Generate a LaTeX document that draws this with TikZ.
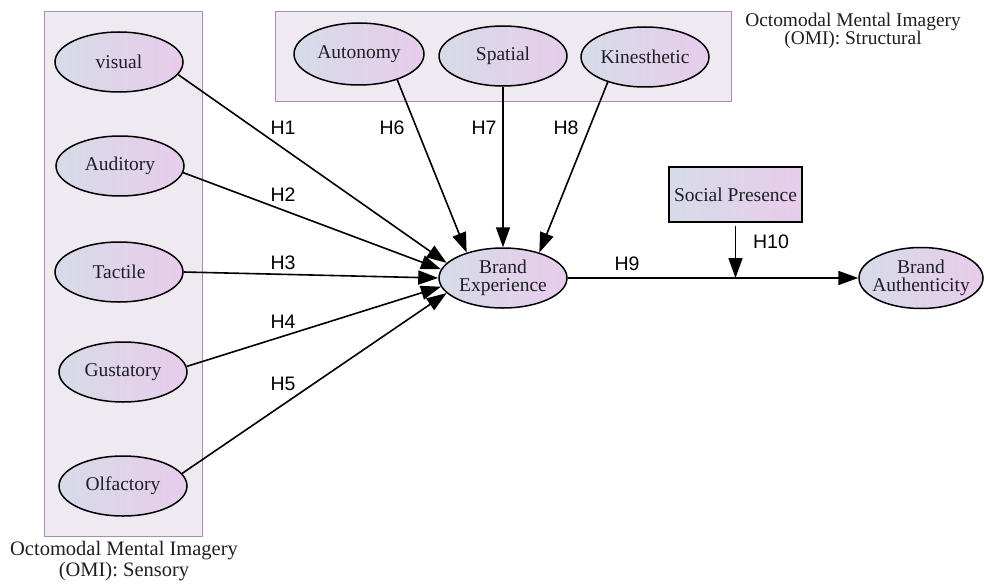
\documentclass[tikz,border=0pt]{standalone}
\usepackage{fontspec}
\setmainfont{Liberation Serif}
\newfontfamily\hfont{Liberation Sans}
\usetikzlibrary{shapes.geometric,arrows.meta}
\definecolor{boxfill}{RGB}{239,234,241}
\definecolor{boxline}{RGB}{170,140,185}
\definecolor{gl}{RGB}{214,219,232}
\definecolor{gr}{RGB}{232,204,236}
\definecolor{txt}{RGB}{30,30,36}
\begin{document}
\begin{tikzpicture}[x=1pt,y=-1pt,
 group/.style={draw=boxline, fill=boxfill, line width=1pt},
 lat/.style={ellipse, draw=black, line width=1.5pt, left color=gl, right color=gr, minimum width=128pt, minimum height=60pt, inner sep=0pt, font=\fontsize{19.5}{18}\selectfont, text=txt, align=center},
 obs/.style={rectangle, draw=black, line width=1.5pt, left color=gl, right color=gr, minimum width=133pt, minimum height=55pt, inner sep=0pt, font=\fontsize{19.5}{18}\selectfont, text=txt},
 hyparrow/.style={draw=black, line width=1.6pt, -{Triangle[length=20pt,width=14pt]}},
 hyp/.style={font=\hfont\fontsize{19.5}{20}\selectfont, text=black, inner sep=0pt},
 captext/.style={align=center, text=txt, inner sep=0pt}
]
\useasboundingbox (0,0) rectangle (984,583);
% group boxes
\draw[group] (44,12) rectangle (202,536);
\draw[group] (275,12) rectangle (731,102);
% latent nodes
\node[lat] (vis) at (119,62) {visual};
\node[lat] (aud) at (120,166) {Auditory};
\node[lat] (tac) at (119,272) {Tactile};
\node[lat] (gus) at (123,372) {Gustatory};
\node[lat] (olf) at (123,486) {Olfactory};
\node[lat, minimum width=130pt, minimum height=62pt] (aut) at (359,54) {Autonomy};
\node[lat] (spa) at (503,56) {Spatial};
\node[lat] (kin) at (645,57) {Kinesthetic};
\node[lat] (bex) at (503,278) {Brand\\Experience};
\node[lat, minimum width=124pt, minimum height=61pt] (bau) at (921,278) {Brand\\\makebox[80pt]{Authenticity}};
\node[obs] (sp) at (735.5,194.5) {Social Presence};
% paths
\draw[hyparrow] (vis.-12) -- (bex.165);
\draw[hyparrow] (aud.-6) -- (bex.172);
\draw[hyparrow] (tac.0) -- (bex.180);
\draw[hyparrow] (gus.5) -- (bex.188);
\draw[hyparrow] (olf.12) -- (bex.195);
\draw[hyparrow] (aut.-34) -- (bex.145);
\draw[hyparrow] (spa.south) -- (bex.north);
\draw[hyparrow] (kin.-146) -- (bex.35);
\draw[hyparrow] (bex.east) -- (bau.west);
\coordinate (mod) at (sp.south |- bex.east);
\draw[hyparrow, shorten <=3pt] (sp.south) -- (mod);
% hypothesis labels
\node[hyp] (h1) at (283,128) {H1};
\node[hyp] (h2) at (283,195) {H2};
\node[hyp] (h3) at (283,263) {H3};
\node[hyp] (h4) at (283,322) {H4};
\node[hyp] (h5) at (283,384) {H5};
\node[hyp] (h6) at (392,128) {H6};
\node[hyp] (h7) at (484,128) {H7};
\node[hyp] (h8) at (566,128) {H8};
\node[hyp] (h9) at (627,264) {H9};
\node[hyp] (h10) at (771,242) {H10};
% captions
\node[captext, font=\fontsize{19.4}{18.5}\selectfont] (capst) at (853,31) {Octomodal Mental Imagery\\(OMI): Structural};
\node[captext, font=\fontsize{20.5}{21.5}\selectfont] (capse) at (124,561) {Octomodal Mental Imagery\\(OMI): Sensory};
\end{tikzpicture}
\end{document}
